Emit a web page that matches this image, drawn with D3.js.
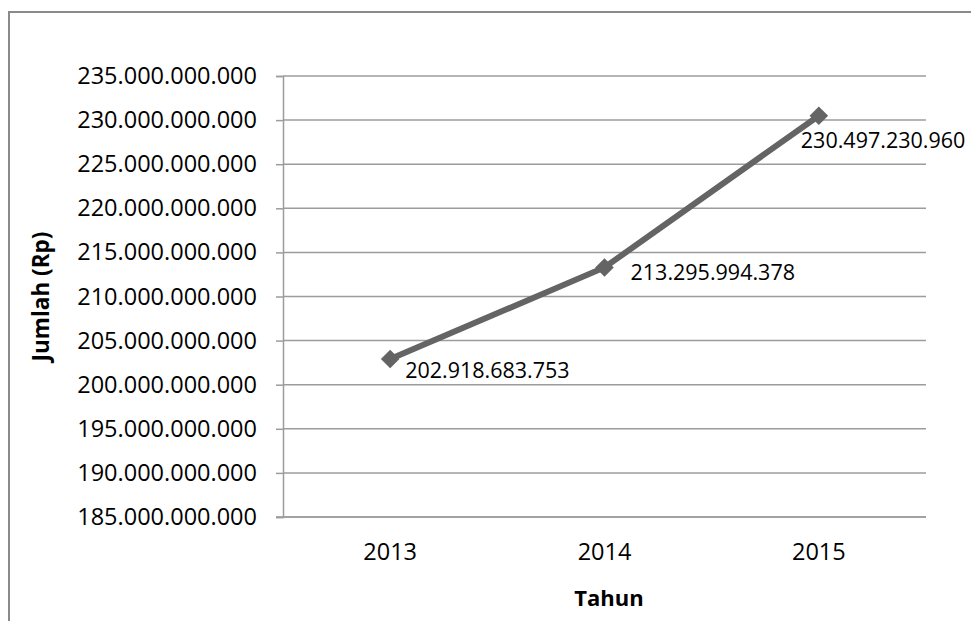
<!DOCTYPE html>
<html>
<head>
<meta charset="utf-8">
<script src="https://cdn.jsdelivr.net/npm/d3@7"></script>
<style>
  body { margin: 0; background: #fff; }
  svg { display: block; font-family: "Open Sans", sans-serif; }
</style>
</head>
<body>
<svg width="971" height="621"></svg>
<script>
// ---- Dados
const tahun = ['2013', '2014', '2015'];
const jumlah = [202918683753, 213295994378, 230497230960];
const jumlahLabel = ['202.918.683.753', '213.295.994.378', '230.497.230.960'];
const yTicks = [185e9, 190e9, 195e9, 200e9, 205e9, 210e9, 215e9, 220e9, 225e9, 230e9, 235e9];

const margens = { left: 283, right: 45, top: 76, bottom: 104 };
const svg = d3.select('svg');
const W = 971, H = 621;

// borda do gráfico
svg.append('rect')
    .attr('x', 9).attr('y', 12)
    .attr('width', W + 20).attr('height', H + 20)
    .attr('fill', 'none')
    .attr('stroke', '#8a8a8a')
    .attr('stroke-width', 2);

// ---- Escalas
const mapX = d3.scaleBand().domain(tahun).range([margens.left, W - margens.right]);
const mapY = d3.scaleLinear().domain([185e9, 235e9]).range([H - margens.bottom, margens.top]);

const fmt = v => d3.format(',')(v).replace(/,/g, '.');

// ---- Grid
svg.append('g')
    .selectAll('line')
    .data(yTicks)
    .join('line')
    .attr('x1', margens.left).attr('x2', W - margens.right)
    .attr('y1', d => mapY(d)).attr('y2', d => mapY(d))
    .attr('stroke', '#9c9c9c')
    .attr('stroke-width', 1.5);

// ---- Eixos
const yAxis = d3.axisLeft(mapY).tickValues(yTicks).tickFormat(fmt).tickSize(7).tickPadding(19);
svg.append('g')
    .attr('transform', `translate(${margens.left},0)`)
    .call(yAxis)
    .call(g => g.select('.domain').attr('stroke', '#9c9c9c').attr('stroke-width', 1.5))
    .call(g => g.selectAll('.tick line').attr('stroke', '#9c9c9c').attr('stroke-width', 1.5))
    .call(g => g.selectAll('.tick text')
        .attr('font-family', '"Open Sans", sans-serif')
        .attr('font-size', 23.5)
        .attr('fill', '#000'));

const xAxis = d3.axisBottom(mapX).tickSize(0).tickPadding(26);
svg.append('g')
    .attr('transform', `translate(0,${H - margens.bottom})`)
    .call(xAxis)
    .call(g => g.select('.domain').attr('stroke', '#9c9c9c').attr('stroke-width', 1.5)
        .attr('d', `M${margens.left - 7},0H${W - margens.right}`))
    .call(g => g.selectAll('.tick text')
        .attr('font-family', '"Open Sans", sans-serif')
        .attr('font-size', 23.5)
        .attr('fill', '#000'));

// títulos dos eixos
svg.append('text')
    .attr('transform', `translate(40,${(margens.top + H - margens.bottom) / 2}) rotate(-90)`)
    .attr('text-anchor', 'middle')
    .attr('dominant-baseline', 'central')
    .attr('font-weight', 'bold')
    .attr('font-size', 22.5)
    .text('Jumlah (Rp)');

svg.append('text')
    .attr('x', 609).attr('y', 597)
    .attr('text-anchor', 'middle')
    .attr('dominant-baseline', 'central')
    .attr('font-weight', 'bold')
    .attr('font-size', 22)
    .text('Tahun');

// ---- Linha
const pontos = tahun.map((t, i) => ({ t, v: jumlah[i], label: jumlahLabel[i] }));
const cx = d => mapX(d.t) + mapX.bandwidth() / 2;

svg.append('path')
    .datum(pontos)
    .attr('fill', 'none')
    .attr('stroke', '#646464')
    .attr('stroke-width', 6)
    .attr('d', d3.line().x(cx).y(d => mapY(d.v)));

svg.append('g')
    .selectAll('path')
    .data(pontos)
    .join('path')
    .attr('transform', d => `translate(${cx(d)},${mapY(d.v)})`)
    .attr('d', d3.symbol(d3.symbolDiamond2, 220))
    .attr('fill', '#646464');

// rótulos de dados
const offsets = [[15, 11], [26, 4], [-18, 24]];
svg.append('g')
    .selectAll('text')
    .data(pontos)
    .join('text')
    .attr('x', (d, i) => cx(d) + offsets[i][0])
    .attr('y', (d, i) => mapY(d.v) + offsets[i][1])
    .attr('dominant-baseline', 'central')
    .attr('font-size', 21.5)
    .attr('fill', '#000')
    .text(d => d.label);
</script>
</body>
</html>
